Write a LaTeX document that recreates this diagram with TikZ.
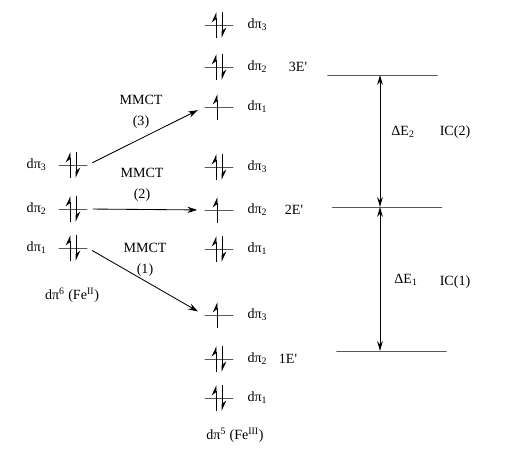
\documentclass[tikz,border=0pt]{standalone}
\usepackage{fontspec}
\setmainfont{Liberation Serif}
\usetikzlibrary{positioning, arrows.meta}

\begin{document}
\begin{tikzpicture}[x=0.025cm, y=-0.025cm, >=Stealth, node distance=0.25cm,
    font=\fontsize{10}{15}\selectfont,
    orb/.style={draw, line width=0.6pt, minimum width=0.72cm, minimum height=0pt, inner sep=0pt},
    elevel/.style={draw, line width=0.6pt, minimum width=2.75cm, minimum height=0pt, inner sep=0pt},
    spin/.style={line width=0.7pt, -{Stealth[left, length=6.5pt, width=6pt]}},
    lab/.style={inner sep=1pt},
    mmct/.style={->, line width=0.6pt, >={Stealth[length=7pt, width=4.5pt]}, shorten <=3.5pt, shorten >=5pt},
    gap/.style={<->, line width=0.6pt, >={Stealth[length=7pt, width=4pt]}}
  ]
  \useasboundingbox (0,0) rectangle (520,464);
  % Fe(II) donor levels
  \foreach \n/\y in {3/165, 2/209, 1/248} {
    \node[orb] (L\n) at (73,\y) {};
    \node[lab, left=0.25cm of L\n] {dπ\textsubscript{\n}};
  }
  \node (fe2) at (72,295) {dπ\textsuperscript{6} (Fe\textsuperscript{II})};
  % Fe(III) acceptor levels: 3E', 2E', 1E'
  \foreach \n/\y in {3/25, 2/67, 1/107} {
    \node[orb] (T\n) at (219,\y) {};
    \node[lab, right=0.3cm of T\n] {dπ\textsubscript{\n}};
  }
  \foreach \n/\y in {3/167, 2/210, 1/249} {
    \node[orb] (S\n) at (219,\y) {};
    \node[lab, right=0.3cm of S\n] {dπ\textsubscript{\n}};
  }
  \foreach \n/\y in {3/315, 2/359, 1/398} {
    \node[orb] (G\n) at (219,\y) {};
    \node[lab, right=0.3cm of G\n] {dπ\textsubscript{\n}};
  }
  \node (fe3) at (235,435) {dπ\textsuperscript{5} (Fe\textsuperscript{III})};
  \node (t3) at (298,67) {3E\textquotesingle};
  \node (t2) at (294,210) {2E\textquotesingle};
  \node (t1) at (288,359) {1E\textquotesingle};
  % electrons
  \foreach \o in {L3,L2,L1,T3,T2,S3,S1,G2,G1} {
    \draw[spin] (\o) ++(-3,13) -- ++(0,-26);
    \draw[spin] (\o) ++(3,-13) -- ++(0,26);
  }
  \foreach \o in {T1,S2,G3} {
    \draw[spin] (\o) ++(-2,13) -- ++(0,-26);
  }
  % MMCT transitions
  \draw[mmct] (L3.east) -- (T1.west);
  \draw[mmct] (L2.east) -- (S2.west);
  \draw[mmct] (L1.east) -- (G3.west);
  \node[align=center] at (141,112) {MMCT\\(3)};
  \node[align=center] at (142,184.5) {MMCT\\(2)};
  \node[align=center] at (145,259.5) {MMCT\\(1)};
  % energy levels
  \node[elevel] (e3) at (382.5,75) {};
  \node[elevel] (e2) at (387,207) {};
  \node[elevel] (e1) at (391.5,351) {};
  \coordinate (ax) at (380,0);
  \draw[gap] (e3 -| ax) -- (e2 -| ax);
  \draw[gap] (e2 -| ax) -- (e1 -| ax);
  \node at (403,132) {ΔE\textsubscript{2}};
  \node at (455,132) {IC(2)};
  \node at (406,280) {ΔE\textsubscript{1}};
  \node at (455,282) {IC(1)};
\end{tikzpicture}
\end{document}
